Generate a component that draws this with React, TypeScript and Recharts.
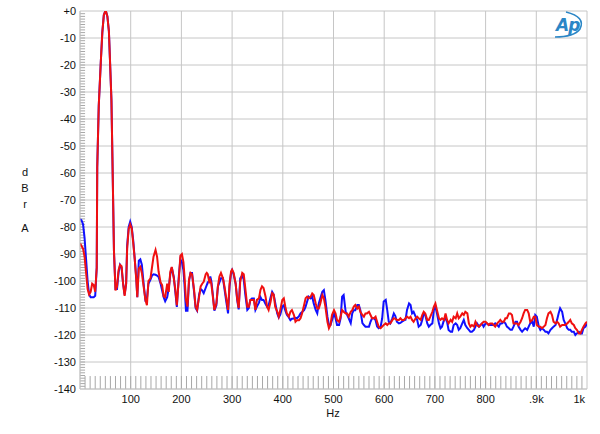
import React from 'react';
import { LineChart, Line, XAxis, YAxis, CartesianGrid, ReferenceLine } from 'recharts';

// Frequency (Hz) of each sample
const freqHz = [
  0, 3, 6, 9, 12, 15, 18, 21, 24, 27,
  30, 33, 34, 37, 41, 44, 47, 50, 51, 54,
  57, 59, 62, 64, 67, 70, 73, 76, 79, 82,
  85, 88, 91, 93, 96, 99, 102, 105, 108, 111,
  113, 116, 119, 122, 126, 129, 132, 135, 139, 142,
  145, 149, 152, 155, 159, 162, 165, 168, 172, 175,
  178, 181, 185, 188, 191, 195, 198, 201, 204, 206,
  209, 212, 215, 218, 221, 225, 228, 231, 235, 238,
  241, 244, 248, 250, 252, 255, 257, 259, 262, 265,
  269, 272, 275, 278, 282, 285, 288, 292, 295, 298,
  300, 303, 307, 310, 313, 316, 320, 323, 326, 330,
  333, 336, 339, 343, 346, 349, 353, 356, 359, 362,
  366, 369, 372, 376, 379, 382, 385, 389, 392, 395,
  399, 402, 405, 408, 412, 415, 418, 422, 425, 428,
  432, 435, 438, 442, 445, 448, 451, 455, 458, 461,
  465, 468, 471, 474, 478, 481, 484, 488, 491, 494,
  497, 501, 504, 507, 511, 514, 517, 520, 524, 527,
  530, 534, 537, 540, 543, 547, 550, 553, 557, 560,
  563, 566, 570, 573, 576, 580, 583, 586, 589, 593,
  596, 599, 603, 606, 609, 612, 616, 619, 622, 625,
  629, 632, 635, 639, 642, 645, 649, 652, 655, 658,
  662, 665, 668, 672, 675, 678, 681, 685, 688, 691,
  695, 698, 701, 704, 708, 711, 714, 718, 721, 724,
  727, 731, 734, 737, 741, 744, 747, 750, 754, 757,
  760, 764, 767, 770, 773, 777, 780, 783, 787, 790,
  793, 796, 800, 803, 806, 809, 813, 816, 819, 823,
  826, 829, 832, 836, 839, 842, 846, 849, 852, 855,
  859, 862, 865, 869, 872, 875, 878, 882, 885, 888,
  892, 895, 898, 901, 905, 908, 911, 915, 918, 921,
  924, 928, 931, 934, 938, 941, 944, 947, 951, 954,
  957, 961, 964, 967, 970, 974, 977, 980, 984, 987,
  990, 993, 997, 1000,
];

// Left channel (blue), dBrA
const leftDb = [
  -77, -77.5, -79, -84, -92, -100, -105, -106, -106, -106,
  -105.5, -95, -58, -35, -19, -8, -1.5, 0, 0, -2,
  -7.5, -17.5, -33, -55, -89, -103, -103, -97, -94, -95,
  -101, -105, -101, -87, -80, -78, -80, -85, -92, -99,
  -106, -92.5, -92, -94, -102, -107, -106.5, -101, -99.5, -98,
  -97.5, -97.7, -98, -98.5, -101, -103.5, -106, -107.5, -106, -102.7,
  -97.7, -95, -98.5, -104, -109.6, -98, -92, -93, -96, -101,
  -111, -111, -100, -97, -97, -104, -110, -111, -105, -103,
  -103.5, -104.5, -102.5, -101.5, -100.5, -100, -98.3, -100, -105, -111,
  -109, -102, -100.5, -99, -99, -103, -107, -112, -102, -97,
  -96, -97.5, -101, -107, -110.5, -99, -98, -99.5, -105, -110.7,
  -110, -107, -106.5, -106.5, -110.7, -109.5, -108, -106, -107, -107,
  -108.5, -109.5, -109, -106, -104, -105, -108, -112, -113.5, -112.5,
  -109.5, -109, -111, -112.5, -113.5, -114.5, -114, -113.9, -113.6, -113.8,
  -113, -112, -111.5, -110.8, -109.5, -107.6, -105.8, -106.4, -105.8, -108.3,
  -110.8, -112, -108.3, -106.4, -104, -103.4, -107, -113.2, -116.3, -116.3,
  -114.5, -112, -113.8, -116.3, -116.3, -113.8, -105.8, -105.2, -111.4, -112.6,
  -113.8, -115.6, -112, -110.8, -110.8, -108.9, -108.9, -110.8, -115.6, -116.3,
  -116.9, -116.9, -116.9, -115.1, -113.8, -113.8, -114.5, -116.9, -117.5, -116.9,
  -113.8, -107.6, -107, -110.8, -115.1, -115.7, -113.8, -112, -113, -115.1,
  -115.7, -115.5, -115.1, -114.6, -114.4, -110.7, -108.3, -108.9, -112, -111.4,
  -113.2, -114.4, -116.9, -116.3, -114.4, -112, -112.6, -115.7, -116.9, -116.3,
  -115.7, -110.7, -109.5, -112, -115.7, -117.5, -116.9, -114.4, -113.8, -115.1,
  -118.1, -118.8, -118.8, -116.3, -115.7, -116.3, -118.1, -117.5, -115.7, -114.4,
  -116.3, -117.5, -118.1, -118.8, -118.8, -118.1, -116.9, -115.7, -116.9, -116.3,
  -115.7, -116.9, -115.7, -115.7, -116.3, -116.3, -116.3, -116.3, -115.7, -116.3,
  -116.9, -115.7, -115.7, -115.1, -115.7, -116.9, -117.5, -118.1, -118.1, -116.9,
  -115.1, -115.1, -116.9, -118.1, -118.8, -118.1, -117.5, -118.1, -116.9, -115.7,
  -115.1, -116.9, -112.6, -113.2, -116.9, -118.1, -117.5, -118.1, -118.8, -118.8,
  -119.4, -118.1, -117.5, -116.9, -116.3, -114.4, -112, -110.1, -111.4, -114.4,
  -115.7, -117.5, -118.1, -118.1, -118.8, -118.8, -120, -119.4, -118.8, -119.4,
  -119.4, -117.5, -116.9, -115.7,
];

// Right channel (red), dBrA
const rightDb = [
  -86, -87, -88, -91, -97, -103, -105, -104, -101, -101.5,
  -104, -95, -58, -35, -19, -8, -1.5, 0, 0, -2,
  -7.5, -17.5, -33, -55, -89, -103.5, -102, -96, -94, -94.5,
  -101, -105.5, -101, -88, -80.7, -79, -80.5, -86, -92, -99.5,
  -106, -95.3, -94.7, -97, -102.7, -107, -109, -100, -99, -95,
  -91, -88.5, -91, -96.5, -100.6, -101.5, -105.7, -106, -101, -104,
  -96.6, -94.8, -99, -103, -109, -99, -90.6, -90, -93, -98,
  -107, -109.5, -99.6, -97, -97.5, -103.3, -109.5, -110.7, -105.8, -102,
  -101, -100.3, -97.5, -97, -97.5, -100.3, -99.6, -101, -105.8, -110.7,
  -108.3, -102, -98.3, -97, -99, -102, -105.8, -110.7, -101, -96.4,
  -95.8, -97, -101, -106.5, -110, -100.3, -97, -97.5, -102.6, -109.5,
  -109.5, -107, -107, -107, -110.7, -107, -106.4, -103.3, -102, -102.6,
  -105.8, -109.5, -110.7, -107.6, -104.5, -105, -109.5, -111.3, -113.2, -110.7,
  -107, -106.4, -109.5, -112, -113.2, -111.4, -110.8, -112.6, -115.1, -114.5,
  -114.5, -113.8, -112, -108.9, -106.4, -105.8, -106.4, -105.8, -104.6, -105.2,
  -108.3, -110.2, -110.2, -108.3, -105.2, -106.4, -109.5, -115.1, -117.5, -116.3,
  -112.6, -110.8, -112, -114.5, -115.1, -113.2, -110.8, -111.4, -112, -112,
  -113.2, -111.4, -110.8, -109.5, -108.9, -110.2, -109.5, -111.4, -112.6, -113.2,
  -112, -112, -111.4, -112.6, -113.8, -113.8, -113.2, -115.1, -116.9, -117.5,
  -116.9, -116.3, -115.7, -116.3, -115.7, -115.7, -114.5, -113.8, -114, -114.4,
  -114.4, -113.8, -114.4, -114.4, -113.8, -113.2, -113.8, -113.2, -114.4, -115.1,
  -113.8, -113.2, -113.8, -114.4, -112.6, -111.4, -112, -114.4, -114.4, -113.2,
  -111.4, -109.5, -108.3, -110.7, -113.8, -114.4, -113.8, -114.4, -112, -114.4,
  -115.7, -114.4, -115.1, -113.2, -113.8, -112, -113.8, -113.2, -112, -112.6,
  -111.4, -112, -115.7, -116.9, -116.3, -116.9, -115.1, -116.3, -116.9, -116.3,
  -115.7, -115.1, -115.1, -115.7, -116.3, -115.7, -115.7, -116.3, -116.9, -115.7,
  -115.1, -114.4, -115.1, -115.1, -113.8, -113.8, -112, -112, -112.6, -115.7,
  -115.7, -115.7, -116.3, -115.1, -113.8, -112, -110.7, -110.7, -112, -115.1,
  -114.4, -113.2, -113.2, -116.3, -116.9, -116.9, -117.5, -116.9, -116.3, -113.8,
  -112, -111.4, -112.6, -115.1, -115.7, -115.1, -115.7, -116.9, -116.3, -116.3,
  -116.3, -115.7, -115.1, -114.4, -115.7, -116.3, -117.5, -118.1, -119.4, -119.4,
  -118.1, -116.9, -115.7, -115.1,
];

const xTicks = [100, 200, 300, 400, 500, 600, 700, 800, 900, 1000];
const xTickLabels = ['100', '200', '300', '400', '500', '600', '700', '800', '.9k', '1k'];
const yTicks = [0, -10, -20, -30, -40, -50, -60, -70, -80, -90, -100, -110, -120, -130, -140];
const yTickLabels = ['+0', '-10', '-20', '-30', '-40', '-50', '-60', '-70', '-80', '-90', '-100', '-110', '-120', '-130', '-140'];

const data = freqHz.map((hz, i) => ({ hz, left: leftDb[i], right: rightDb[i] }));

const minorY: number[] = [];
for (let v = -139; v < 0; v += 1) minorY.push(v);
const minorX: number[] = [];
for (let f = 10; f < 1000; f += 10) minorX.push(f);

const FONT = '"Liberation Sans", Arial, sans-serif';
const GRID = '#c6c6c6';
const TICK = '#a8a8a8';

const XTick = (props: any) => {
  const { x, y, payload } = props;
  const idx = xTicks.indexOf(payload.value);
  const isLast = idx === xTicks.length - 1;
  return (
    <text
      x={isLast ? x + 1 : x}
      y={y}
      dy="0.71em"
      textAnchor={isLast ? 'end' : 'middle'}
      fill="#111"
      fontSize={11}
      fontFamily={FONT}
    >
      {xTickLabels[idx] ?? ''}
    </text>
  );
};

export default function App() {
  return (
    <div style={{ position: 'fixed', left: 0, top: 0, width: 600, height: 434, background: '#fff' }}>
      <LineChart
        width={600}
        height={434}
        data={data}
        margin={{ top: 11, right: 13, bottom: 25, left: 40 }}
        style={{ fontFamily: FONT }}
      >
        <CartesianGrid stroke={GRID} strokeWidth={1} />
        <XAxis
          type="number"
          dataKey="hz"
          domain={[0, 1000]}
          ticks={xTicks}
          allowDataOverflow
          height={20}
          tickLine={false}
          tickSize={0}
          tickMargin={6}
          axisLine={{ stroke: GRID }}
          tick={<XTick />}
        />
        <YAxis
          type="number"
          domain={[-140, 0]}
          ticks={yTicks}
          tickFormatter={(v: number) => yTickLabels[yTicks.indexOf(v)] ?? ''}
          allowDataOverflow
          width={40}
          tickLine={false}
          tickSize={0}
          tickMargin={4}
          axisLine={{ stroke: GRID }}
          tick={{ fill: '#111', fontSize: 11, fontFamily: FONT }}
        />
        {minorY.map((v) => (
          <ReferenceLine
            key={'my' + v}
            segment={[{ x: 0, y: v }, { x: 10, y: v }]}
            stroke={TICK}
            strokeWidth={1}
          />
        ))}
        {minorX.map((f) => (
          <ReferenceLine
            key={'mx' + f}
            segment={[{ x: f, y: -140 }, { x: f, y: -135.2 }]}
            stroke={TICK}
            strokeWidth={1}
          />
        ))}
        <Line
          type="linear"
          dataKey="left"
          stroke="#1010ff"
          strokeWidth={2}
          dot={false}
          isAnimationActive={false}
        />
        <Line
          type="linear"
          dataKey="right"
          stroke="#f01010"
          strokeWidth={2}
          dot={false}
          isAnimationActive={false}
        />
      </LineChart>
      <svg
        width={600}
        height={434}
        style={{ position: 'absolute', left: 0, top: 0, pointerEvents: 'none' }}
        fontFamily={FONT}
      >
        <text x={25} y={176} fontSize={11} textAnchor="middle" fill="#111">d</text>
        <text x={25} y={192} fontSize={11} textAnchor="middle" fill="#111">B</text>
        <text x={25} y={208} fontSize={11} textAnchor="middle" fill="#111">r</text>
        <text x={25} y={232} fontSize={11} textAnchor="middle" fill="#111">A</text>
        <text x={333} y={417} fontSize={11} textAnchor="middle" fill="#111">Hz</text>
        <text x={556} y={31} fontSize={17} fontStyle="italic" fontWeight="bold" fill="#2b86c6" fontFamily="'DejaVu Sans', sans-serif" letterSpacing={-1}>Ap</text>
        <path d="M 566 12 Q 586 17 580 29 Q 574 37 555 37" stroke="#2b86c6" strokeWidth={1.6} fill="none" />
      </svg>
    </div>
  );
}
